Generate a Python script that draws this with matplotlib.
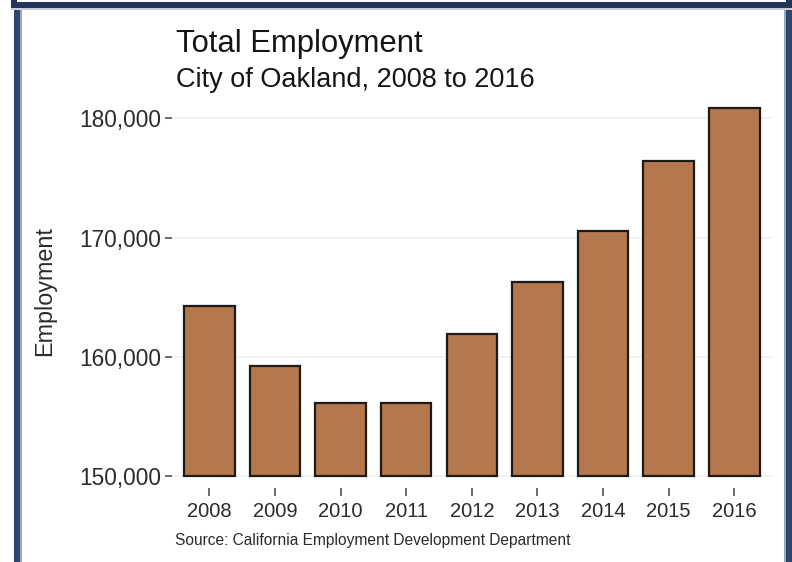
import matplotlib
matplotlib.use("Agg")
import matplotlib.pyplot as plt
from matplotlib.patches import Rectangle

# Data
years = ["2008", "2009", "2010", "2011", "2012", "2013", "2014", "2015", "2016"]
employment = [164300, 159200, 156100, 156100, 161900, 166300, 170600, 176400, 180900]
baseline = 150000
y_ticks = [150000, 160000, 170000, 180000]
y_tick_labels = ["150,000", "160,000", "170,000", "180,000"]

plt.rcParams["font.family"] = ["Liberation Sans", "DejaVu Sans"]

W, H = 792, 562
fig = plt.figure(figsize=(W / 100, H / 100), dpi=100)
fig.patch.set_facecolor("white")

# Helper: rectangle in image pixel coords (top-left origin)
def px_rect(x0, y0, x1, y1, color, z=0):
    fig.patches.append(Rectangle((x0 / W, 1 - y1 / H), (x1 - x0) / W, (y1 - y0) / H,
                                 transform=fig.transFigure, facecolor=color,
                                 edgecolor="none", zorder=z))

# Navy frame pieces of the screenshot
px_rect(11, 0, 792, 8, "#23355a")
px_rect(17, 0, 786, 2, "white", z=1)
px_rect(11, 8, 792, 9.5, "#c9ced6")
px_rect(14, 10, 20, 562, "#2e4670")
px_rect(20, 10, 22, 562, "#9aa8c0")
px_rect(786, 10, 792, 562, "#2e4670")
px_rect(784, 10, 786, 562, "#9aa8c0")

# Plot panel
ax_w, ax_h = 599.7, 393.4
ax = fig.add_axes([172 / W, 74 / H, ax_w / W, ax_h / H])
x = list(range(len(years)))
heights = [v - baseline for v in employment]
ax.bar(x, heights, bottom=baseline, width=0.77, color="#b4784e",
       edgecolor="#1e1a18", linewidth=1.6, zorder=3)

ax.set_xlim(-0.57, 8.57)
ax.set_ylim(149000, 182000)
ax.set_yticks(y_ticks)
ax.set_yticklabels(y_tick_labels)
ax.set_xticks(x)
ax.set_xticklabels(years)

for s in ax.spines.values():
    s.set_visible(False)
ax.grid(axis="y", color="#edf2f2", linewidth=1.3, zorder=0)
ax.tick_params(axis="y", length=5, width=1.1, color="#444444", pad=3,
               labelsize=16.3, labelcolor="#2b2b2b")
ax.tick_params(axis="x", length=6, width=1.1, color="#444444", pad=4,
               labelsize=14.5, labelcolor="#2b2b2b")

ax.set_ylabel("Employment", fontsize=16.8, color="#2b2b2b")
ax.yaxis.set_label_coords((56 - 172) / ax_w, 0.5)

# Titles and source
fig.text(176 / W, 1 - 52 / H, "Total Employment", fontsize=22.3, color="#151515",
         ha="left", va="baseline")
fig.text(176 / W, 1 - 87 / H, "City of Oakland, 2008 to 2016", fontsize=19.5,
         color="#151515", ha="left", va="baseline")
fig.text(175 / W, 1 - 540 / H, "Source: California Employment Development Department",
         fontsize=11.2, color="#2b2b2b", ha="left", va="center")

fig.savefig("out.png", dpi=100)
